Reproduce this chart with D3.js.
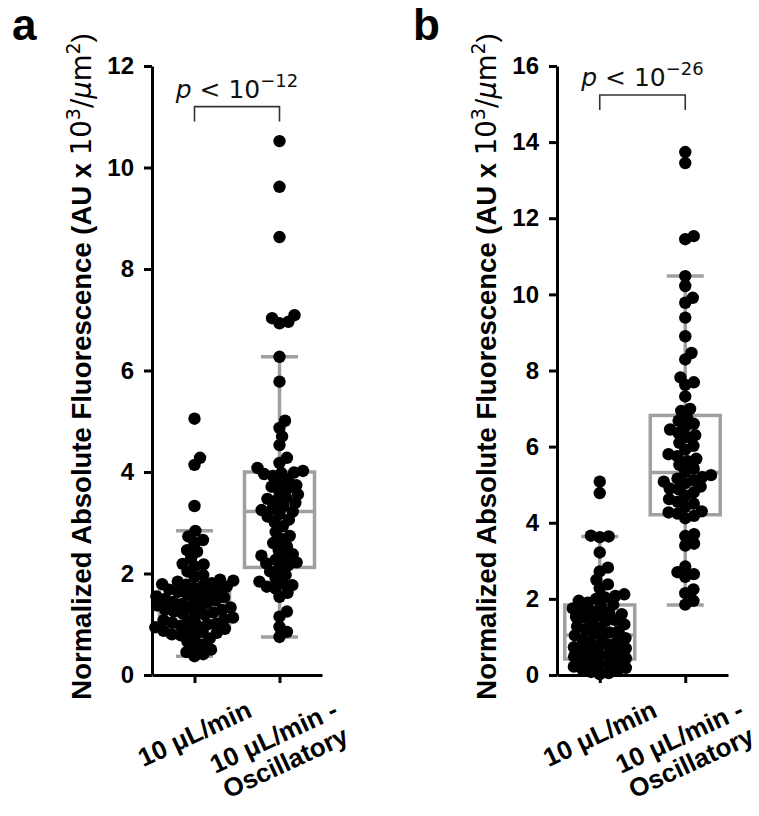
<!DOCTYPE html>
<html>
<head>
<meta charset="utf-8">
<script src="https://cdn.jsdelivr.net/npm/d3@7"></script>
<style>
	body { margin: 0; background: #fff; }
	svg { display: block; }
	.math { font-family: "DejaVu Sans", sans-serif; font-weight: normal; }
</style>
</head>
<body>
<svg id="chart" width="759" height="816"></svg>
<script>
/* global d3 */

// categories (x tick labels, lines of each label)
const categories = [ '10 μL/min', '10 μL/min - Oscillatory' ];
const categoryLines = [ [ '10 μL/min' ], [ '10 μL/min -', 'Oscillatory' ] ];

// y tick values per panel
const ticksA = [ 0, 2, 4, 6, 8, 10, 12 ];
const ticksB = [ 0, 2, 4, 6, 8, 10, 12, 14, 16 ];

// panel a, 10 uL/min
const valuesA1 = [
	5.05, 4.28, 4.14, 3.33,
	2.84, 2.73, 2.66, 2.6, 2.46, 2.43, 2.3, 2.19, 2.18, 2.14, 2.04, 1.97, 1.93,
	1.88, 1.86, 1.84, 1.81, 1.79, 1.78, 1.76, 1.74, 1.71,
	1.68, 1.67, 1.64, 1.62, 1.6, 1.57, 1.55, 1.53, 1.5,
	1.48, 1.47, 1.44, 1.42, 1.4, 1.37, 1.34, 1.33, 1.31,
	1.29, 1.28, 1.25, 1.23, 1.21, 1.19, 1.17, 1.13, 1.1,
	1.08, 1.07, 1.03, 1.01, 1.0, 0.99, 0.97, 0.94, 0.91,
	0.89, 0.87, 0.85, 0.83, 0.8, 0.78, 0.76,
	0.72, 0.66, 0.6, 0.55, 0.5, 0.45, 0.41, 0.37,
];

// panel a, 10 uL/min - oscillatory
const valuesA2 = [
	10.52, 9.62, 8.63, 7.09, 7.03, 6.96, 6.93, 6.27, 5.78,
	5.01, 4.87, 4.7, 4.53, 4.28, 4.18,
	4.08, 4.02, 3.99, 3.98, 3.96, 3.92,
	3.86, 3.8, 3.74, 3.71, 3.68, 3.62,
	3.56, 3.5, 3.47, 3.44, 3.39, 3.33,
	3.28, 3.25, 3.22, 3.17, 3.12, 3.06, 3.01,
	2.93, 2.82, 2.74,
	2.68, 2.6, 2.53, 2.46,
	2.38, 2.35, 2.32, 2.27, 2.22, 2.2, 2.16, 2.11,
	2.04, 1.97, 1.9,
	1.84, 1.8, 1.77, 1.74, 1.7,
	1.62, 1.54, 1.25, 1.15, 0.95, 0.85, 0.75,
];

// panel b, 10 uL/min
const valuesB1 = [
	5.08, 4.78, 3.66, 3.64, 3.62, 3.22, 2.82, 2.72, 2.5, 2.38, 2.28,
	2.12, 2.08, 2.04, 2.0,
	1.95, 1.9, 1.85, 1.8, 1.75, 1.72,
	1.68, 1.64, 1.6, 1.57, 1.53, 1.5, 1.45, 1.42,
	1.38, 1.33, 1.28, 1.24, 1.2, 1.15, 1.12,
	1.08, 1.04, 1.0, 0.97, 0.93, 0.88, 0.84, 0.8,
	0.77, 0.73, 0.7, 0.66, 0.62, 0.59, 0.55, 0.52,
	0.48, 0.44, 0.4, 0.36, 0.33, 0.3, 0.26, 0.22,
	0.19, 0.15, 0.11, 0.08, 0.05, 0.02,
];

// panel b, 10 uL/min - oscillatory
const valuesB2 = [
	13.74, 13.45, 11.53, 11.45,
	10.48, 10.22, 9.91, 9.78, 9.39, 8.9, 8.46, 8.29,
	7.82, 7.69, 7.62, 7.32, 6.99, 6.94,
	6.76, 6.68, 6.6, 6.52,
	6.45, 6.36, 6.3, 6.25, 6.1, 6.02,
	5.92, 5.8, 5.75, 5.68, 5.62,
	5.52, 5.42, 5.34,
	5.25, 5.2, 5.16, 5.12, 5.08, 5.04,
	4.95, 4.9, 4.88, 4.8, 4.72,
	4.62, 4.55, 4.5, 4.42,
	4.3, 4.27, 4.24, 4.18, 4.12,
	3.7, 3.65, 3.45, 3.4,
	2.85, 2.7, 2.65, 2.58,
	2.25, 2.15, 1.95, 1.85,
];

// box stats: [ whisker low, q1, median, q3, whisker high ]
const boxA1 = [ 0.37, 0.93, 1.35, 1.7, 2.84 ];
const boxA2 = [ 0.75, 2.12, 3.22, 4.0, 6.27 ];
const boxB1 = [ 0.0, 0.42, 1.05, 1.84, 3.64 ];
const boxB2 = [ 1.84, 4.21, 5.32, 6.82, 10.48 ];

// significance labels
const pExponents = [ '−12', '−26' ];

const FONT = '"Liberation Sans", Arial, sans-serif';
const BOX_COLOR = '#a0a0a0';

/**
 * Box + swarm panel
 */
class SwarmBoxPanel {
	/**
	 * @param {Object} svg    - d3 selection of the root svg
	 * @param {Object} config - panel layout and data
	 */
	constructor( svg, config ) {
		this.svg = svg;
		this.config = config;
		this.g = svg.append( 'g' )
			.attr( 'transform', `translate(${ config.left },${ config.top })` );

		this.setupScales();
		this.renderBoxes();
		this.renderDots();
		this.renderAxes();
		this.renderAnnotation();
	}

	setupScales() {
		const { width, height, yMax } = this.config;
		this.x = d3.scalePoint()
			.domain( categories )
			.range( [ 0, width ] )
			.padding( 0.5 );
		this.y = d3.scaleLinear()
			.domain( [ 0, yMax ] )
			.range( [ height, 0 ] );
	}

	renderBoxes() {
		const { boxes } = this.config;
		const boxHalf = 35;
		const capHalf = 18.5;

		boxes.forEach( ( b, i ) => {
			const cx = this.x( categories[ i ] );
			const [ lo, q1, med, q3, hi ] = b.map( ( v ) => this.y( v ) );
			const g = this.g.append( 'g' )
				.attr( 'stroke', BOX_COLOR )
				.attr( 'stroke-width', 3.5 )
				.attr( 'fill', 'none' );

			g.append( 'line' ).attr( 'x1', cx ).attr( 'x2', cx ).attr( 'y1', hi ).attr( 'y2', q3 );
			g.append( 'line' ).attr( 'x1', cx ).attr( 'x2', cx ).attr( 'y1', q1 ).attr( 'y2', lo );
			g.append( 'line' ).attr( 'x1', cx - capHalf ).attr( 'x2', cx + capHalf ).attr( 'y1', hi ).attr( 'y2', hi );
			g.append( 'line' ).attr( 'x1', cx - capHalf ).attr( 'x2', cx + capHalf ).attr( 'y1', lo ).attr( 'y2', lo );
			g.append( 'rect' )
				.attr( 'x', cx - boxHalf )
				.attr( 'y', q3 )
				.attr( 'width', boxHalf * 2 )
				.attr( 'height', q1 - q3 );
			g.append( 'line' ).attr( 'x1', cx - boxHalf ).attr( 'x2', cx + boxHalf ).attr( 'y1', med ).attr( 'y2', med );
		} );
	}

	/**
	 * Simple beeswarm: each point goes to the free spot nearest the centre.
	 *
	 * @param {Array}  values - data values
	 * @param {number} d      - minimum distance between dot centres
	 * @return {Array} placed points {x, y}
	 */
	swarm( values, d ) {
		const placed = [];
		values.slice().sort( d3.ascending ).forEach( ( v ) => {
			const py = this.y( v );
			const near = placed.filter( ( p ) => Math.abs( p.y - py ) < d );
			const cands = [ 0 ];
			near.forEach( ( p ) => {
				const dx = Math.sqrt( ( d * d ) - ( ( p.y - py ) ** 2 ) );
				cands.push( p.x + dx, p.x - dx );
			} );
			cands.sort( ( a, b ) => Math.abs( a ) - Math.abs( b ) );
			const px = cands.find( ( c ) => near.every(
				( p ) => ( ( p.x - c ) ** 2 ) + ( ( p.y - py ) ** 2 ) >= ( d * d ) - 0.01
			) );
			placed.push( { x: px, y: py } );
		} );
		return placed;
	}

	renderDots() {
		const { series } = this.config;
		series.forEach( ( values, i ) => {
			const cx = this.x( categories[ i ] );
			const pts = this.swarm( values, 9 );
			this.g.append( 'g' )
				.selectAll( 'circle' )
				.data( pts )
				.enter()
				.append( 'circle' )
				.attr( 'cx', ( p ) => cx + p.x )
				.attr( 'cy', ( p ) => p.y )
				.attr( 'r', 6.2 )
				.attr( 'fill', '#000' );
		} );
	}

	renderAxes() {
		const { height, ticks } = this.config;

		const yAxis = this.g.append( 'g' )
			.call( d3.axisLeft( this.y ).tickValues( ticks ).tickFormat( d3.format( 'd' ) )
				.tickSize( 8 ).tickSizeOuter( 0 ).tickPadding( 10 ) );
		const xAxis = this.g.append( 'g' )
			.attr( 'transform', `translate(0,${ height })` )
			.call( d3.axisBottom( this.x ).tickSize( 8 ).tickSizeOuter( 0 ).tickFormat( '' ) );

		[ yAxis, xAxis ].forEach( ( ax ) => {
			ax.select( '.domain' ).attr( 'stroke', '#000' ).attr( 'stroke-width', 3 );
			ax.selectAll( '.tick line' ).attr( 'stroke', '#000' ).attr( 'stroke-width', 3 );
		} );
		yAxis.selectAll( '.tick text' )
			.attr( 'fill', '#000' )
			.style( 'font-family', FONT )
			.style( 'font-weight', 'bold' )
			.style( 'font-size', '24px' );

		// rotated category labels, bbox centred under the tick
		const angle = 25;
		const rad = angle * Math.PI / 180;
		const size = 26;
		const lineH = size * 1.08;
		categoryLines.forEach( ( lines, i ) => {
			const lg = this.g.append( 'g' );
			const t = lg.append( 'text' )
				.attr( 'text-anchor', 'middle' )
				.style( 'font-family', FONT )
				.style( 'font-weight', 'bold' )
				.style( 'font-size', `${ size }px` );
			lines.forEach( ( line, j ) => {
				t.append( 'tspan' )
					.attr( 'x', 0 )
					.attr( 'y', ( ( j - ( ( lines.length - 1 ) / 2 ) ) * lineH ) + ( size * 0.35 ) )
					.text( line );
			} );
			const w = d3.max( t.selectAll( 'tspan' ).nodes(), ( n ) => n.getComputedTextLength() );
			const h = lines.length * lineH;
			const bh = ( w * Math.sin( rad ) ) + ( h * Math.cos( rad ) );
			lg.attr( 'transform', `translate(${ this.x( categories[ i ] ) },${ height + 20 + ( bh / 2 ) }) rotate(${ -angle })` );
		} );

		// y label with math part
		const lab = this.g.append( 'text' )
			.attr( 'transform', `translate(-61,${ height / 2 - 4 }) rotate(-90)` )
			.attr( 'text-anchor', 'middle' )
			.style( 'font-family', FONT )
			.style( 'font-weight', 'bold' )
			.style( 'font-size', '27.5px' );
		lab.append( 'tspan' ).text( 'Normalized Absolute Fluorescence (AU x ' );
		lab.append( 'tspan' ).attr( 'class', 'math' ).text( '10' );
		lab.append( 'tspan' ).attr( 'class', 'math' ).attr( 'dy', -11 ).style( 'font-size', '19px' ).text( '3' );
		lab.append( 'tspan' ).attr( 'class', 'math' ).attr( 'dy', 11 ).text( '/' );
		lab.append( 'tspan' ).attr( 'class', 'math' ).style( 'font-style', 'italic' ).text( 'μ' );
		lab.append( 'tspan' ).attr( 'class', 'math' ).text( 'm' );
		lab.append( 'tspan' ).attr( 'class', 'math' ).attr( 'dy', -11 ).style( 'font-size', '19px' ).text( '2' );
		lab.append( 'tspan' ).attr( 'dy', 11 ).style( 'font-weight', 'normal' ).text( ')' );
	}

	renderAnnotation() {
		const { bracketAt, pExp } = this.config;
		const x1 = this.x( categories[ 0 ] );
		const x2 = this.x( categories[ 1 ] );
		const by = this.y( bracketAt );

		this.g.append( 'path' )
			.attr( 'd', `M${ x1 },${ by + 15 }V${ by }H${ x2 }V${ by + 15 }` )
			.attr( 'fill', 'none' )
			.attr( 'stroke', '#333' )
			.attr( 'stroke-width', 1.6 );

		const t = this.g.append( 'text' )
			.attr( 'x', ( x1 + x2 ) / 2 )
			.attr( 'y', by - 9 )
			.attr( 'text-anchor', 'middle' )
			.attr( 'class', 'math' )
			.attr( 'fill', '#111' )
			.style( 'font-size', '25px' );
		t.append( 'tspan' ).style( 'font-style', 'italic' ).text( 'p' );
		t.append( 'tspan' ).text( ' < 10' );
		t.append( 'tspan' ).attr( 'dy', -11 ).style( 'font-size', '18px' ).text( pExp );
	}
}

const svg = d3.select( '#chart' );
svg.append( 'rect' ).attr( 'width', 759 ).attr( 'height', 816 ).attr( 'fill', '#fff' );

new SwarmBoxPanel( svg, {
	left: 152, top: 66, width: 170, height: 609, yMax: 12,
	ticks: ticksA, series: [ valuesA1, valuesA2 ], boxes: [ boxA1, boxA2 ],
	bracketAt: 11.2, pExp: pExponents[ 0 ],
} );
new SwarmBoxPanel( svg, {
	left: 557, top: 66, width: 171, height: 609, yMax: 16,
	ticks: ticksB, series: [ valuesB1, valuesB2 ], boxes: [ boxB1, boxB2 ],
	bracketAt: 15.24, pExp: pExponents[ 1 ],
} );

[ [ 'a', 12 ], [ 'b', 413 ] ].forEach( ( [ letter, x ] ) => {
	svg.append( 'text' )
		.attr( 'x', x )
		.attr( 'y', 40 )
		.style( 'font-family', FONT )
		.style( 'font-weight', 'bold' )
		.style( 'font-size', '44px' )
		.text( letter );
} );
</script>
</body>
</html>
